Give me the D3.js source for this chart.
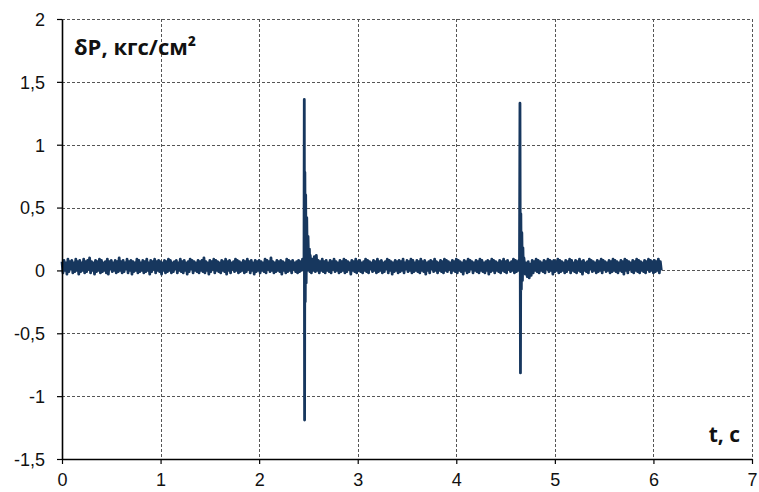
<!DOCTYPE html>
<html>
<head>
<meta charset="utf-8">
<script src="https://cdn.jsdelivr.net/npm/d3@7"></script>
<style>
  body { margin: 0; background: #fff; }
  svg { display: block; }
</style>
</head>
<body>
<svg id="chart" width="759" height="492"></svg>
<script>
// Pressure pulsation record δP(t), sampled every 0.01 s
const sampleStep = 0.01;
const baseline = [
  0.07,-0.02,0.08,0.00,0.06,-0.03,0.09,-0.01,0.07,0.01,0.08,-0.02,0.06,-0.01,0.09,0.00,0.07,-0.03,0.08,-0.01,
  0.06,0.00,0.09,-0.02,0.07,-0.01,0.08,0.01,0.10,-0.02,0.07,0.00,0.06,-0.03,0.08,-0.01,0.07,0.00,0.09,-0.02,
  0.08,-0.01,0.06,0.00,0.07,-0.02,0.09,-0.03,0.07,0.01,0.08,-0.01,0.06,0.00,0.08,-0.02,0.07,-0.01,0.10,0.00,
  0.07,-0.02,0.08,-0.01,0.06,0.01,0.09,-0.02,0.07,0.00,0.08,-0.03,0.07,-0.01,0.06,0.00,0.09,-0.02,0.08,-0.01,
  0.06,0.00,0.08,-0.02,0.07,-0.01,0.09,0.00,0.06,-0.03,0.08,-0.01,0.07,0.01,0.09,-0.02,0.07,0.00,0.08,-0.01,
  0.07,-0.03,0.06,0.00,0.08,-0.02,0.07,-0.01,0.09,0.00,0.08,-0.02,0.06,-0.01,0.07,0.01,0.08,-0.02,0.06,0.00,
  0.09,-0.01,0.07,-0.02,0.08,0.00,0.06,-0.03,0.07,-0.01,0.09,0.01,0.08,-0.02,0.07,0.00,0.06,-0.01,0.08,-0.02,
  0.07,0.00,0.08,-0.01,0.10,-0.02,0.07,0.00,0.06,-0.03,0.08,-0.01,0.07,0.01,0.09,-0.02,0.08,0.00,0.07,-0.01,
  0.06,-0.02,0.08,0.00,0.07,-0.01,0.09,-0.03,0.07,0.00,0.08,-0.02,0.06,0.01,0.07,-0.01,0.09,0.00,0.08,-0.02,
  0.07,-0.01,0.06,0.00,0.08,-0.02,0.07,-0.01,0.09,0.01,0.07,-0.02,0.08,0.00,0.06,-0.03,0.08,-0.01,0.07,0.00,
  0.08,-0.02,0.07,0.00,0.06,-0.01,0.09,-0.02,0.08,0.01,0.07,-0.01,0.10,0.00,0.07,-0.02,0.06,-0.01,0.08,0.00,
  0.07,-0.01,0.08,-0.03,0.07,0.00,0.06,-0.02,0.09,-0.01,0.08,0.00,0.07,-0.02,0.08,0.01,0.06,-0.01,0.07,-0.02,
  0.08,-0.01,0.07,0.00,0.09,0.02,0.02,0.02,0.02,0.02,0.02,0.02,0.10,-0.02,0.09,0.00,0.11,-0.01,0.12,0.00,
  0.08,-0.02,0.07,0.00,0.09,-0.01,0.07,-0.02,0.08,0.00,0.06,-0.01,0.08,-0.02,0.07,0.01,0.09,-0.01,0.07,0.00,
  0.06,-0.02,0.08,-0.01,0.07,0.00,0.09,-0.02,0.08,-0.01,0.07,0.01,0.06,-0.03,0.08,0.00,0.07,-0.01,0.09,-0.02,
  0.07,0.00,0.08,-0.01,0.06,-0.02,0.07,0.00,0.09,-0.01,0.08,-0.02,0.07,0.01,0.06,-0.01,0.08,0.00,0.07,-0.02,
  0.09,-0.01,0.07,0.00,0.08,-0.02,0.06,-0.01,0.07,0.01,0.09,-0.02,0.08,0.00,0.07,-0.03,0.06,-0.01,0.08,0.00,
  0.07,-0.02,0.08,-0.01,0.07,0.00,0.09,-0.02,0.06,0.01,0.08,-0.01,0.07,0.00,0.09,-0.02,0.08,-0.01,0.06,0.00,
  0.08,-0.01,0.07,-0.02,0.09,0.00,0.07,-0.01,0.08,-0.03,0.06,0.00,0.07,-0.02,0.08,0.01,0.07,-0.01,0.09,0.00,
  0.07,-0.02,0.06,0.00,0.08,-0.01,0.07,-0.02,0.09,0.00,0.08,-0.01,0.07,0.01,0.06,-0.02,0.08,0.00,0.07,-0.01,
  0.09,-0.02,0.08,0.00,0.07,-0.01,0.06,-0.03,0.08,0.00,0.07,-0.02,0.09,-0.01,0.08,0.01,0.07,-0.02,0.06,0.00,
  0.08,-0.01,0.07,-0.02,0.09,0.00,0.08,-0.01,0.06,-0.02,0.07,0.00,0.08,-0.03,0.07,-0.01,0.09,0.00,0.08,-0.02,
  0.07,0.00,0.06,-0.01,0.08,-0.02,0.07,0.00,0.09,-0.01,0.07,-0.02,0.08,0.01,0.06,-0.01,0.07,0.00,0.09,-0.02,
  0.08,-0.01,0.07,0.00,0.02,0.02,0.02,0.02,0.02,0.07,-0.03,0.06,-0.05,0.07,-0.06,0.05,-0.04,0.08,-0.02,0.07,0.00,
  0.09,-0.01,0.08,-0.02,0.07,0.00,0.06,-0.01,0.08,-0.02,0.07,0.01,0.09,-0.01,0.08,0.00,0.07,-0.03,0.08,-0.01,
  0.07,0.00,0.09,-0.02,0.08,-0.01,0.07,0.00,0.06,-0.02,0.08,-0.01,0.07,0.01,0.09,-0.02,0.08,0.00,0.06,-0.01,
  0.08,-0.02,0.07,0.00,0.09,-0.01,0.07,-0.03,0.08,0.00,0.06,-0.01,0.07,-0.02,0.09,0.01,0.08,-0.01,0.07,0.00,
  0.06,-0.02,0.08,-0.01,0.07,0.00,0.09,-0.02,0.08,0.01,0.07,-0.01,0.06,0.00,0.08,-0.02,0.07,-0.01,0.09,0.00,
  0.08,-0.01,0.07,-0.02,0.06,0.00,0.08,-0.01,0.07,-0.03,0.09,0.00,0.08,-0.02,0.07,0.01,0.06,-0.01,0.08,-0.02,
  0.07,0.00,0.09,-0.01,0.08,-0.02,0.07,0.00,0.06,-0.01,0.08,-0.02,0.07,0.01,0.09,-0.01,0.08,0.00,0.07,-0.02,
  0.08,-0.01,0.07,0.00,0.09,-0.02,0.07,0.00
];

// First pulse, recorded at a finer step
const burst1Time  = [2.450, 2.455, 2.458, 2.461, 2.464, 2.468, 2.472, 2.477, 2.483, 2.489, 2.496, 2.503, 2.510, 2.515, 2.518];
const burst1Value = [0.09, 0.02, 1.36, -1.19, 0.78, -0.25, 0.60, -0.10, 0.42, 0.00, 0.27, 0.01, 0.17, -0.01, 0.12];

// Second pulse
const burst2Time  = [4.635, 4.641, 4.646, 4.651, 4.655, 4.660, 4.665, 4.671, 4.676, 4.681, 4.686];
const burst2Value = [0.08, 0.00, 1.33, -0.815, 0.45, -0.15, 0.30, -0.08, 0.18, -0.02, 0.10];

const xTicks = [0, 1, 2, 3, 4, 5, 6, 7];
const yTicks = [-1.5, -1, -0.5, 0, 0.5, 1, 1.5, 2];
const xTitle = "t, c";
const yTitle = "δP, кгс/см²";

const svg = d3.select("#chart");
const x = d3.scaleLinear().domain([0, 7]).range([62, 752]);
const y = d3.scaleLinear().domain([-1.5, 2]).range([459, 19]);

const ru = d3.formatLocale({ decimal: ",", thousands: " ", grouping: [3], currency: ["", ""], minus: "-" });
const fmt = ru.format("~r");

// merge the baseline with the finely sampled pulses
let points = baseline.map((v, i) => ({ t: i * sampleStep, v }));
[[burst1Time, burst1Value], [burst2Time, burst2Value]].forEach(([T, V]) => {
  const lo = T[0], hi = T[T.length - 1];
  points = points.filter(p => p.t < lo || p.t > hi)
                 .concat(T.map((t, k) => ({ t, v: V[k] })));
});
points.sort((a, b) => a.t - b.t);

const gridColor = "#555";

// horizontal grid
svg.append("g")
  .selectAll("line")
  .data(yTicks.filter(d => d !== -1.5))
  .join("line")
  .attr("x1", x(0)).attr("x2", x(7))
  .attr("y1", d => Math.round(y(d)) + 0.5).attr("y2", d => Math.round(y(d)) + 0.5)
  .attr("stroke", gridColor).attr("stroke-width", 1).attr("stroke-dasharray", "3,2");

// vertical grid
svg.append("g")
  .selectAll("line")
  .data(xTicks.filter(d => d !== 0))
  .join("line")
  .attr("x1", d => Math.round(x(d)) + 0.5).attr("x2", d => Math.round(x(d)) + 0.5)
  .attr("y1", y(2)).attr("y2", y(-1.5))
  .attr("stroke", gridColor).attr("stroke-width", 1).attr("stroke-dasharray", "3,2");

// signal
svg.append("path")
  .datum(points)
  .attr("fill", "none")
  .attr("stroke", "#17375e")
  .attr("stroke-width", 2.8)
  .attr("stroke-linejoin", "round")
  .attr("d", d3.line().x(d => x(d.t)).y(d => y(d.v)));

// axes
const yAxis = svg.append("g")
  .attr("transform", `translate(${x(0)},0)`)
  .call(d3.axisLeft(y).tickValues(yTicks).tickSize(5).tickSizeOuter(0).tickFormat(fmt));
const xAxis = svg.append("g")
  .attr("transform", `translate(0,${y(-1.5)})`)
  .call(d3.axisBottom(x).tickValues(xTicks).tickSize(5).tickSizeOuter(0).tickFormat(fmt));

[yAxis, xAxis].forEach(g => {
  g.select(".domain").attr("stroke", "#000").attr("stroke-width", 1.6);
  g.selectAll(".tick line").attr("stroke", "#000").attr("stroke-width", 1.2);
  g.selectAll(".tick text")
    .attr("fill", "#111")
    .style("font-family", "'Liberation Sans', Arial, sans-serif")
    .style("font-size", "18px");
});
yAxis.selectAll(".tick text").attr("x", -17).attr("dy", "0.35em");
xAxis.selectAll(".tick text").attr("y", 14).attr("dy", "0.71em");

// axis titles
svg.append("text")
  .attr("x", 74).attr("y", 55)
  .style("font-family", "'Open Sans', sans-serif")
  .style("font-weight", 700)
  .style("font-size", "22px")
  .attr("fill", "#111")
  .text(yTitle);

svg.append("text")
  .attr("x", 740).attr("y", 442)
  .attr("text-anchor", "end")
  .style("font-family", "'Open Sans', sans-serif")
  .style("font-weight", 700)
  .style("font-size", "21px")
  .attr("fill", "#111")
  .text(xTitle);
</script>
</body>
</html>
